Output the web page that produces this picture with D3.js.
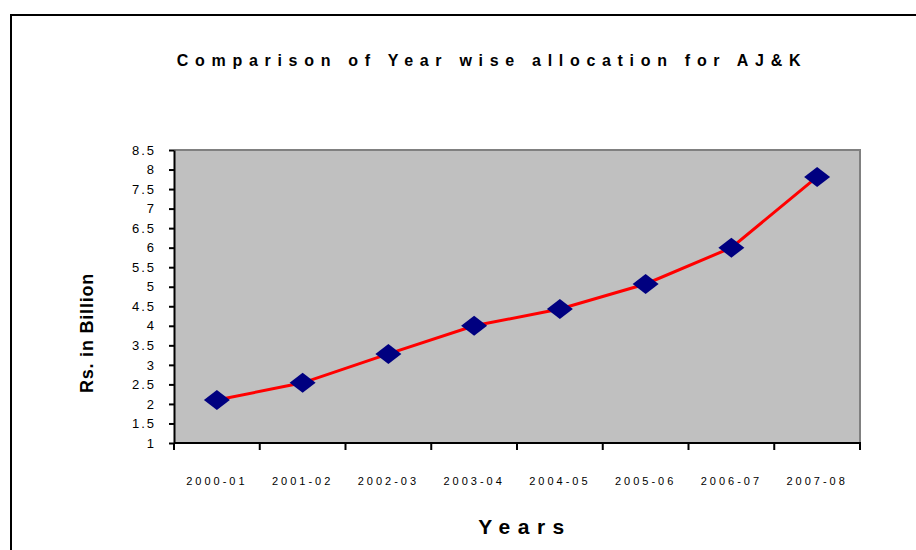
<!DOCTYPE html>
<html>
<head>
<meta charset="utf-8">
<script src="https://cdn.jsdelivr.net/npm/d3@7"></script>
<style>
  body { margin: 0; background: #fff; }
  svg { display: block; font-family: "Liberation Sans", Arial, sans-serif; }
</style>
</head>
<body>
<div class="chart"></div>
<script>
// data
const years = ['2000-01', '2001-02', '2002-03', '2003-04', '2004-05', '2005-06', '2006-07', '2007-08'];
const allocation = [2.1, 2.54, 3.28, 4.0, 4.43, 5.07, 6.0, 7.81];
const yTicks = [1, 1.5, 2, 2.5, 3, 3.5, 4, 4.5, 5, 5.5, 6, 6.5, 7, 7.5, 8, 8.5];

const width = 916, height = 550;
const plot = {left: 174, top: 150, right: 860, bottom: 443};

const svg = d3.select('.chart').append('svg')
  .attr('width', width).attr('height', height);

// outer frame (runs off the right and bottom edges)
svg.append('path')
  .attr('d', `M11,${height + 2} L11,15 L${width + 2},15`)
  .attr('fill', 'none').attr('stroke', '#000').attr('stroke-width', 2);

// scales
const x = d3.scaleBand().domain(years).range([plot.left, plot.right]);
const y = d3.scaleLinear().domain([1, 8.5]).range([plot.bottom, plot.top]);

// plot area
svg.append('rect')
  .attr('x', plot.left).attr('y', plot.top)
  .attr('width', plot.right - plot.left).attr('height', plot.bottom - plot.top)
  .attr('fill', '#c0c0c0');
svg.append('path')
  .attr('d', `M${plot.left},${plot.top} L${plot.right},${plot.top} L${plot.right},${plot.bottom}`)
  .attr('fill', 'none').attr('stroke', '#808080').attr('stroke-width', 2);

// y axis
const yAxis = d3.axisLeft(y).tickValues(yTicks).tickSize(5).tickSizeOuter(0).tickPadding(13)
  .tickFormat(d => String(d));
const yG = svg.append('g').attr('transform', `translate(${plot.left},0)`).call(yAxis);
yG.select('.domain').attr('stroke', '#000').attr('stroke-width', 2);
yG.selectAll('.tick line').attr('stroke', '#000').attr('stroke-width', 2);
yG.selectAll('text').attr('font-size', 13).attr('fill', '#000')
  .attr('letter-spacing', 2).attr('font-family', '"Liberation Sans", Arial, sans-serif');

// x axis: ticks at category boundaries, labels at centres
const xG = svg.append('g').attr('transform', `translate(0,${plot.bottom})`);
xG.append('line')
  .attr('x1', plot.left).attr('x2', plot.right + 1)
  .attr('stroke', '#000').attr('stroke-width', 2);
const bounds = years.map(d => x(d)).concat([x.range()[1]]);
xG.selectAll('.xtick').data(bounds).join('line')
  .attr('class', 'xtick')
  .attr('x1', d => d).attr('x2', d => d)
  .attr('y1', 0).attr('y2', 7)
  .attr('stroke', '#000').attr('stroke-width', 2);
xG.selectAll('.xlabel').data(years).join('text')
  .attr('class', 'xlabel')
  .attr('x', d => x(d) + x.bandwidth() / 2)
  .attr('y', 42)
  .attr('text-anchor', 'middle')
  .attr('font-size', 11)
  .attr('letter-spacing', 3)
  .text(d => d);

// line
const line = d3.line()
  .x((d, i) => x(years[i]) + x.bandwidth() / 2)
  .y(d => y(d));
svg.append('path')
  .datum(allocation)
  .attr('d', line)
  .attr('fill', 'none')
  .attr('stroke', '#ff0000')
  .attr('stroke-width', 3);

// diamond markers
svg.selectAll('.marker').data(allocation).join('path')
  .attr('class', 'marker')
  .attr('transform', (d, i) => `translate(${x(years[i]) + x.bandwidth() / 2},${y(d)})`)
  .attr('d', 'M0,-10 L13,0 L0,10 L-13,0 Z')
  .attr('fill', '#000080');

// titles
svg.append('text')
  .attr('x', 492).attr('y', 66)
  .attr('text-anchor', 'middle')
  .attr('font-size', 16).attr('font-weight', 'bold')
  .attr('letter-spacing', 6.7)
  .text('Comparison of Year wise allocation for AJ&K');

svg.append('text')
  .attr('x', 525).attr('y', 534)
  .attr('text-anchor', 'middle')
  .attr('font-size', 21).attr('font-weight', 'bold')
  .attr('letter-spacing', 7.5)
  .text('Years');

svg.append('text')
  .attr('transform', 'translate(93,333) rotate(-90)')
  .attr('text-anchor', 'middle')
  .attr('font-size', 18).attr('font-weight', 'bold')
  .attr('letter-spacing', 0.8)
  .text('Rs. in Billion');
</script>
</body>
</html>
